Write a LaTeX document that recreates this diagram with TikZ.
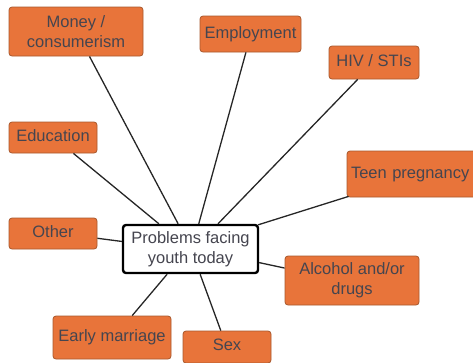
\documentclass[tikz,border=0pt]{standalone}
\usepackage{fontspec}
\setmainfont{Liberation Sans}
\usetikzlibrary{calc}
\definecolor{boxfill}{HTML}{E8743A}
\definecolor{boxedge}{HTML}{A8582C}
\definecolor{ink}{HTML}{45454F}
\tikzset{
  topic/.style={draw=boxedge, line width=0.8pt, fill=boxfill, rounded corners=3pt,
    text=ink, align=center, inner sep=0pt, font=\fontsize{16.5}{20}\selectfont},
  raised/.style={text height=12pt, text depth=5pt},
  lifted/.style={text height=12pt, text depth=3.5pt},
  hub/.style={draw=black, line width=2.4pt, fill=white, rounded corners=3pt,
    text=ink, align=center, inner sep=0pt, font=\fontsize{16.5}{20}\selectfont},
  link/.style={draw=black!85, line width=1.3pt}
}
\begin{document}
\begin{tikzpicture}[x=1pt, y=-1pt]
  \useasboundingbox (0,0) rectangle (473,362);
  \begin{scope}
    \clip (0,0) rectangle (473,362);
    % central topic
    \node[hub, minimum width=135pt, minimum height=48pt] (ctr) at (190.5,249) {Problems facing\\youth today};
    % surrounding problems
    \node[topic, minimum width=134pt, minimum height=49pt] (money) at (76,31.5) {Money /\\consumerism};
    \node[topic, lifted, minimum width=101pt, minimum height=36pt] (emp) at (250.5,34) {Employment};
    \node[topic, lifted, minimum width=90pt, minimum height=33pt] (hiv) at (374,62.5) {HIV / STIs};
    \node[topic, raised, minimum width=88pt, minimum height=31pt] (edu) at (53,137.5) {Education};
    \node[topic, lifted, minimum width=134pt, minimum height=46pt, text width=126pt, align=left] (teen) at (414,174) {Teen pregnancy};
    \node[topic, raised, minimum width=88pt, minimum height=31pt] (other) at (53,233.5) {Other};
    \node[topic, minimum width=134pt, minimum height=49pt] (alc) at (352,280.5) {Alcohol and/or\\drugs};
    \node[topic, raised, minimum width=118pt, minimum height=43pt] (early) at (112,337.5) {Early marriage};
    \node[topic, raised, minimum width=88pt, minimum height=32pt] (sex) at (227,347) {Sex};
  \end{scope}
  % connectors from each problem to the central topic
  \path[link] ($(money.south west)!0.6!(money.south east)$) -- ($(ctr.north west)!0.41!(ctr.north east)$);
  \path[link] ($(edu.south west)!0.73!(edu.south east)$) -- ($(ctr.north west)!0.27!(ctr.north east)$);
  \path[link] ($(emp.south west)!0.455!(emp.south east)$) -- ($(ctr.north west)!0.56!(ctr.north east)$);
  \path[link] ($(hiv.south west)!0.32!(hiv.south east)$) -- ($(ctr.north west)!0.70!(ctr.north east)$);
  \path[link] ($(teen.south west)+(2,-1)$) -- ($(ctr.north east)+(-1,1)$);
  \path[link] ($(other.north east)!0.65!(other.south east)$) -- ($(ctr.north west)!0.35!(ctr.south west)$);
  \path[link] ($(alc.north west)!0.25!(alc.south west)$) -- ($(ctr.north east)!0.77!(ctr.south east)$);
  \path[link] ($(early.north west)!0.67!(early.north east)$) -- ($(ctr.south west)!0.33!(ctr.south east)$);
  \path[link] ($(sex.north west)!0.43!(sex.north east)$) -- ($(ctr.south west)!0.57!(ctr.south east)$);
\end{tikzpicture}
\end{document}
